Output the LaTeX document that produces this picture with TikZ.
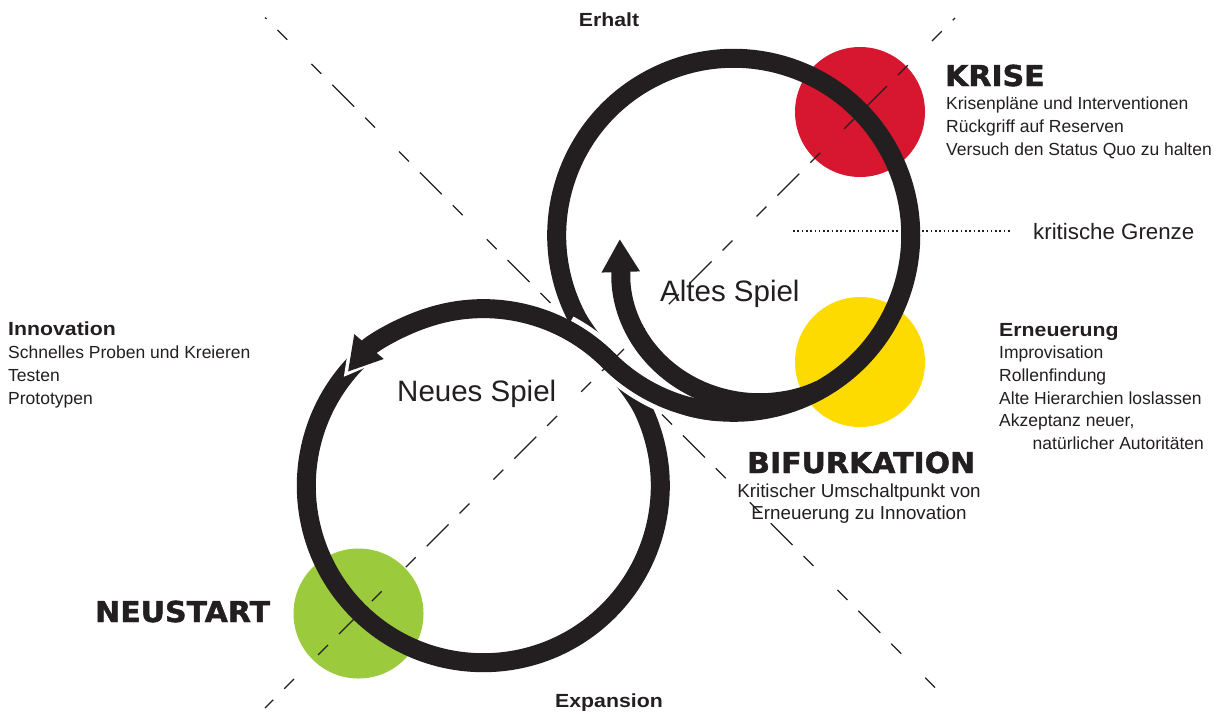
\documentclass[tikz,border=0pt]{standalone}
\usepackage{fontspec}
\setmainfont{Liberation Sans}
\newfontfamily\headfont[FakeStretch=1.04,FakeBold=1.6]{DejaVu Sans}
\newfontfamily\labfont[FakeStretch=1.12]{Liberation Sans}
\usetikzlibrary{arrows.meta,calc}
\definecolor{ink}{HTML}{231F20}
\definecolor{krot}{HTML}{D7172F}
\definecolor{kgelb}{HTML}{FDDB00}
\definecolor{kgruen}{HTML}{9BCB3C}
\begin{document}
\begin{tikzpicture}[x=1pt,y=-1pt,
  ring/.style={draw=ink, line width=19pt},
  gapline/.style={draw=white, line width=29pt},
  guide/.style={draw=ink, line width=1.1pt, dash pattern=on 31pt off 15.5pt on 14pt off 34pt on 14pt off 15.5pt},
  dotline/.style={draw=ink, line width=1.6pt, dash pattern=on 1.6pt off 2.7pt},
  disc/.style={circle, inner sep=0pt, minimum size=130pt, draw=none},
  body/.style={anchor=base west, inner sep=0pt, text=ink, font=\fontsize{17.5}{21}\selectfont},
  lab/.style={anchor=base west, inner sep=0pt, text=ink, font=\labfont\bfseries\fontsize{19}{23}\selectfont},
  head/.style={anchor=base west, inner sep=0pt, text=ink, font=\headfont\bfseries\fontsize{28.8}{30}\selectfont},
  game/.style={anchor=base west, inner sep=0pt, text=ink, font=\fontsize{29.5}{32}\selectfont},
  tipA/.style={-{Triangle[width=36pt,length=33pt]}},
]
\useasboundingbox (0,0) rectangle (1214,713);
\fill[white] (0,0) rectangle (1214,713);
\coordinate (U) at (733.7,235.3);
\coordinate (L) at (483.3,485.7);

% coloured discs
\node[disc, fill=krot] (red) at (860,112) {};
\node[disc, fill=kgelb] (yellow) at (860,362) {};
\node[disc, fill=kgruen] (green) at (358.5,613.5) {};

% critical border
\coordinate (g1) at (793,231);
\coordinate (g2) at (1012,231);
\draw[dotline] (g1) -- (g2);
\node[anchor=base west, inner sep=0pt, text=ink, font=\fontsize{22.3}{25}\selectfont] (grenze) at (1033,239) {kritische Grenze};

% texts
\node[lab, anchor=base] (erhalt) at (609,26) {Erhalt};
\node[lab, anchor=base] (expansion) at (609,707) {Expansion};

\node[head] (krise) at (945,86) {KRISE};
\node[body] (k1) at (946,109) {Krisenpläne und Interventionen};
\node[body] (k2) at (946,132) {Rückgriff auf Reserven};
\node[body] (k3) at (946,155) {Versuch den Status Quo zu halten};

\node[lab] (ern) at (999,336) {Erneuerung};
\node[body] (e1) at (999,358.5) {Improvisation};
\node[body] (e2) at (999,381.5) {Rollenfindung};
\node[body] (e3) at (999,404) {Alte Hierarchien loslassen};
\node[body] (e4) at (999,426.5) {Akzeptanz neuer,};
\node[body] (e5) at (1032.5,449) {natürlicher Autoritäten};

\node[head] (bif) at (747,473) {BIFURKATION};
\node[body, anchor=base, font=\fontsize{18.8}{22}\selectfont] (b1) at (859,497) {Kritischer Umschaltpunkt von};
\node[body, anchor=base, font=\fontsize{18.8}{22}\selectfont] (b2) at (859,519.5) {Erneuerung zu Innovation};

\node[lab] (inno) at (8,335) {Innovation};
\node[body] (i1) at (8,358.3) {Schnelles Proben und Kreieren};
\node[body] (i2) at (8,381) {Testen};
\node[body] (i3) at (8,404) {Prototypen};

\node[head] (neu) at (95,622) {NEUSTART};

\node[game] (altes) at (660,301) {Altes Spiel};
\node[game] (neues) at (397,401.5) {Neues Spiel};

% main loop: lower circle, hidden crossing, upper circle
\draw[ring] ($(L)+(228:177)$) arc[start angle=228, end angle=-25, radius=177]
  .. controls +(-12.7,-27.2) and +(13.6,26.7) .. ($(U)+(153:177)$)
  arc[start angle=153, end angle=465, radius=177];

% white notch behind the left arrow head
\draw[draw=white, line width=1pt, -{Triangle[width=46pt,length=42pt]}]
  ($(L)+(240:177)$) arc[start angle=240, end angle=218, radius=177];

% white border of the over-crossing S strand
\draw[gapline] ($(U)+(112:177)$) arc[start angle=112, end angle=135, radius=177]
  arc[start angle=315, end angle=298, radius=177];

% S strand with arrow
\draw[ring, tipA] ($(U)+(95:177)$) arc[start angle=95, end angle=135, radius=177]
  arc[start angle=315, end angle=220, radius=177];

% inner spiral with arrow
\draw[ring, tipA] plot[smooth, domain=61:162, samples=40]
  ({733.7+(177-59*pow((\x-60)/103,1.3))*cos(\x)}, {235.3+(177-59*pow((\x-60)/103,1.3))*sin(\x)})
  -- ++(-1,-33);

% dashed diagonals
\coordinate (d1a) at (265,17.5);
\coordinate (d1b) at (945,697.5);
\coordinate (d2a) at (955,18);
\coordinate (d2b) at (265,708);
\draw[guide, dash phase=28.9pt] (d1a) -- (d1b);
\draw[guide, dash phase=27.8pt] (d2a) -- (d2b);
\end{tikzpicture}
\end{document}
